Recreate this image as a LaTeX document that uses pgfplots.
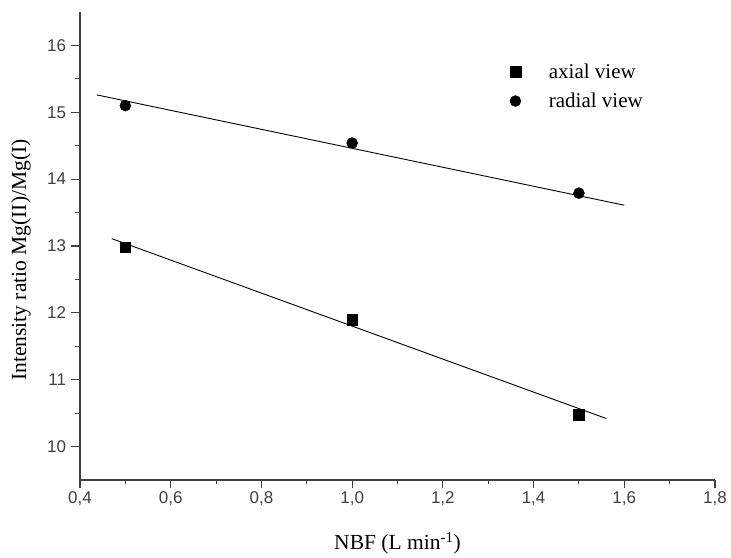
\documentclass[border=0pt]{standalone}
\usepackage{fontspec}
\setmainfont{Liberation Serif}
\setsansfont{Liberation Sans}
\usepackage{pgfplots}
\pgfplotsset{compat=1.18}
\usetikzlibrary{calc}
\definecolor{axgray}{HTML}{404040}

\begin{document}
\begin{tikzpicture}
\begin{axis}[
  name=ax,
  scale only axis, width=635pt, height=468pt,
  xmin=0.4, xmax=1.8, ymin=9.5, ymax=16.5,
  axis lines*=left,
  axis line style={axgray, line width=1.3pt},
  every tick/.style={axgray, line width=1.1pt},
  tick align=outside,
  major tick length=8.5pt, minor tick length=4.5pt,
  xtick={0.4,0.6,...,1.81}, ytick={10,...,16},
  minor x tick num=1, minor y tick num=1,
  /pgf/number format/assume math mode=true,
  /pgf/number format/use comma,
  xticklabel style={/pgf/number format/fixed, /pgf/number format/fixed zerofill, /pgf/number format/precision=1},
  yticklabel style={xshift=-2pt},
  ticklabel style={font=\sffamily\fontsize{17}{20}\selectfont, text=axgray},
  xlabel={NBF (L min\textsuperscript{-1})},
  ylabel={Intensity ratio Mg(II)/Mg(I)},
  label style={font=\fontsize{21.5}{25}\selectfont},
  xlabel style={at={(axis description cs:0.5,-0.135)}, anchor=center},
  ylabel style={at={(axis description cs:-0.093,0.47)}, anchor=center},
  legend style={draw=none, fill=none, at={(0.672,0.898)}, anchor=north west,
    font=\fontsize{21}{25}\selectfont, row sep=9pt},
  legend cell align=left,
  legend image code/.code={\draw[#1] plot coordinates {(0.3cm,0cm)};},
]
\addplot[only marks, mark=square*, mark size=5.3pt, black] coordinates {(0.5,12.98) (1.0,11.90) (1.5,10.48)};
\addlegendentry{\hspace{26pt}axial view}
\addplot[only marks, mark=*, mark size=5.5pt, black] coordinates {(0.5,15.10) (1.0,14.54) (1.5,13.79)};
\addlegendentry{\hspace{26pt}radial view}
\addplot[black, line width=0.9pt, forget plot] coordinates {(0.437,15.26) (1.60,13.61)};
\addplot[black, line width=0.9pt, forget plot] coordinates {(0.47,13.11) (1.56,10.42)};
\end{axis}
\path ($(ax.south west)+(-80pt,-77pt)$) rectangle ($(ax.north east)+(16pt,12pt)$);
\end{tikzpicture}
\end{document}
